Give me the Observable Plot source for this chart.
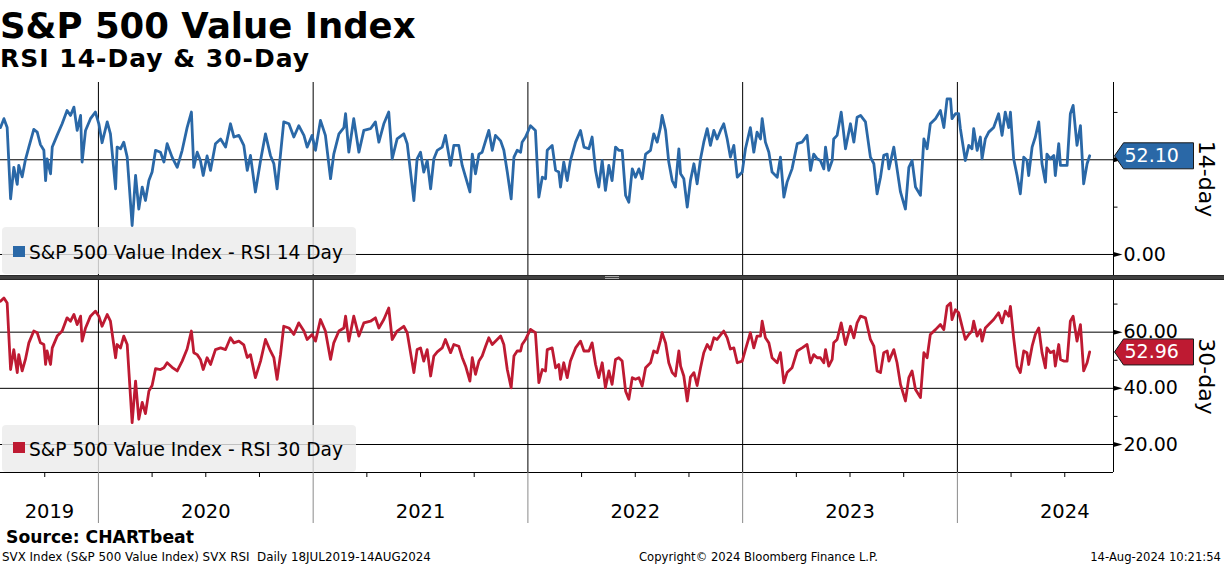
<!DOCTYPE html>
<html>
<head>
<meta charset="utf-8">
<script src="https://cdn.jsdelivr.net/npm/d3@7"></script>
<script src="https://cdn.jsdelivr.net/npm/@observablehq/plot@0.6"></script>
<style>
html,body{margin:0;padding:0;background:#fff;}
#chart{position:relative;width:1224px;height:566px;overflow:hidden;background:#fff;}
#chart > svg{position:absolute;left:0;}
</style>
</head>
<body>
<div id="chart"></div>
<script>
// ---- DATA (time as decimal year) ----
const dates = [
2019.544,2019.560,2019.575,2019.591,2019.606,2019.622,2019.629,2019.645,2019.660,2019.676,
2019.699,2019.715,2019.730,2019.746,2019.754,2019.761,2019.777,2019.785,2019.808,2019.831,
2019.854,2019.870,2019.886,2019.901,2019.917,2019.924,2019.940,2019.963,2019.986,2020.002,
2020.017,2020.041,2020.056,2020.080,2020.087,2020.103,2020.118,2020.134,2020.157,2020.173,
2020.188,2020.204,2020.219,2020.235,2020.250,2020.266,2020.289,2020.305,2020.320,2020.343,
2020.367,2020.390,2020.413,2020.433,2020.444,2020.460,2020.475,2020.488,2020.506,2020.522,
2020.545,2020.569,2020.592,2020.615,2020.631,2020.654,2020.677,2020.693,2020.708,2020.731,
2020.755,2020.778,2020.801,2020.817,2020.832,2020.848,2020.863,2020.887,2020.910,2020.933,
2020.957,2020.972,2020.995,2021.011,2021.034,2021.057,2021.081,2021.096,2021.120,2021.143,
2021.151,2021.166,2021.189,2021.213,2021.236,2021.267,2021.290,2021.306,2021.329,2021.352,
2021.368,2021.391,2021.422,2021.438,2021.469,2021.484,2021.500,2021.515,2021.531,2021.547,
2021.562,2021.578,2021.601,2021.616,2021.640,2021.655,2021.678,2021.694,2021.710,2021.730,
2021.741,2021.756,2021.772,2021.787,2021.803,2021.818,2021.834,2021.849,2021.873,2021.888,
2021.904,2021.922,2021.935,2021.950,2021.966,2021.973,2021.989,2022.012,2022.035,2022.051,
2022.067,2022.082,2022.090,2022.113,2022.129,2022.144,2022.152,2022.167,2022.183,2022.198,
2022.222,2022.245,2022.261,2022.284,2022.299,2022.315,2022.330,2022.346,2022.361,2022.377,
2022.392,2022.408,2022.423,2022.439,2022.455,2022.470,2022.486,2022.501,2022.517,2022.532,
2022.548,2022.571,2022.586,2022.602,2022.617,2022.625,2022.641,2022.656,2022.672,2022.687,
2022.703,2022.711,2022.726,2022.742,2022.757,2022.773,2022.788,2022.804,2022.819,2022.835,
2022.850,2022.866,2022.881,2022.897,2022.912,2022.928,2022.943,2022.959,2022.975,2022.998,
2023.013,2023.036,2023.052,2023.067,2023.083,2023.091,2023.106,2023.122,2023.137,2023.161,
2023.176,2023.192,2023.207,2023.230,2023.254,2023.277,2023.300,2023.316,2023.331,2023.347,
2023.362,2023.378,2023.386,2023.401,2023.417,2023.424,2023.440,2023.459,2023.479,2023.502,
2023.518,2023.533,2023.549,2023.572,2023.595,2023.611,2023.626,2023.642,2023.657,2023.673,
2023.681,2023.704,2023.719,2023.735,2023.758,2023.774,2023.789,2023.805,2023.828,2023.844,
2023.859,2023.874,2023.898,2023.921,2023.937,2023.952,2023.968,2023.975,2023.991,2024.006,
2024.014,2024.037,2024.053,2024.068,2024.076,2024.092,2024.107,2024.115,2024.130,2024.146,
2024.169,2024.192,2024.208,2024.223,2024.239,2024.247,2024.262,2024.278,2024.293,2024.309,
2024.324,2024.332,2024.348,2024.363,2024.379,2024.394,2024.410,2024.417,2024.433,2024.449,
2024.456,2024.472,2024.480,2024.495,2024.511,2024.526,2024.539,2024.557,2024.573,2024.588,
2024.604,2024.616
];
const rsi14 = [
67,71.7,67,29.4,46,37,47,41,50,56.7,
66,64.6,58,55,39,50.5,42.6,56.7,63,69,
76,73.4,77.8,65.5,73.4,48.8,65.5,71.7,75.2,69,
59,70,63.7,34.7,56.7,55.8,59.3,51.4,15.3,41.7,
24,35.6,28.5,39,43.5,55,54,48.8,58.5,51.4,
46,55,67,75.2,46,54,49.6,41.7,52,44.4,
58.5,61,56.7,69,62,62.9,57.6,44.4,52.3,33,
49.6,63.7,52.3,47.9,34.7,53,70,69,62,68,
62.9,56.7,62.9,55,70.8,62.9,40,53,63.7,67,
74.3,54,71.7,54,65.5,66.4,70,59.3,69,75.2,
50.5,61,63.7,58.5,28.5,50.5,54,43.5,49.6,34.7,
50.5,55,56.7,62.9,47,57.6,57.6,47,40.8,33,
53,42.6,53,54,60,65.5,55,62.9,60,55,
43.5,29.4,51.4,55,54,59.3,62,68,65.5,30.3,
40.8,40,55,57.6,44.4,43.5,35.6,48.8,39,49.6,
59.3,65.5,56.7,55.8,62,44.4,35.6,49.6,33.8,47,
39,56.7,55,55,31.2,27.6,45.2,40.8,45.2,40,
53,55,63.7,59.3,67,73.4,65.5,48.8,39,35.6,
55.8,42.6,40,25,39,47.9,37.3,50.5,59.3,66.4,
57.6,65.5,61,65.5,69,61,51.4,57.6,40.8,43.5,
55.8,67,54,64.6,61,71.7,59.3,54,43.5,40.8,
51.4,30.3,38.2,45.2,58.5,59.3,62.9,44.4,53,50.5,
49.6,45.2,56.7,44.4,49.6,61,62.9,75.2,55.8,69,
59.3,72.5,73.4,70,51.4,47.9,32,40.8,52.3,53,
45.2,56.7,45.2,33,24,46,49.6,35.6,31.2,61,
55.8,69,71.7,76,67,82.2,82.2,71.7,74.3,74.3,
66.4,49.6,57.6,55.8,66.4,55,62,50.5,61,64.6,
67,74.3,62.9,75.2,67,75.2,50.5,41.7,32,51.4,
49.6,41.7,56.7,62,70,47.9,38.2,53,50.5,52.3,
41.7,58.5,47,47,47,74.3,78.7,57.6,68,37.3,
47.9,52.10
];
const rsi30 = [
71,72.2,70.4,46.7,53.8,45.6,52,46.2,50.3,56.2,
60.4,59.8,56.2,55.6,48.5,53.3,48.5,54.4,58.6,60.4,
65.1,63.9,66.3,62.7,65.7,56.8,61.5,65.7,67.5,65.7,
62.1,66.3,63.9,50.9,55.6,54.4,58.6,55.6,27.8,42.6,
29,35,31,39,41,47,46.7,47.3,49.1,47.5,
46.2,49.7,54,60.4,52.7,52,50.3,46.7,50.9,48.5,
53.8,54.4,53.8,58,56.2,56.8,55.5,51,52,43.8,
49.7,57.4,53.3,50.9,43.2,52,62.1,61.5,59.2,63.3,
60.4,57.4,59.2,56.8,64.5,60.4,50.3,56.2,60.4,61.5,
65.7,56.8,65.7,58.6,63.3,63.9,65.1,61.5,64.5,68.6,
57.4,60.4,62.1,59.8,45.6,53.8,54.4,49.7,53.8,44.4,
51.5,53,54.4,57.4,52.7,55.6,55,51,47.9,42.6,
50.9,45,49.7,51.5,55,58,55.6,56.8,58.6,55.6,
46.7,40.2,51.5,53.3,53.3,55.6,57.4,61,59.8,42,
46.7,46.2,53.8,54.4,47.3,48.5,43.2,49.1,43.8,49.7,
54.4,56.8,53.3,53.3,56.2,48.5,43.8,49.1,40.2,46.2,
41.4,50.3,50.9,49.7,39,36.1,43.8,43.2,43.8,40.8,
47.3,49.1,53.3,52.7,57,59.8,56.2,49.1,45.6,44.4,
53.3,47.9,44.4,35.5,44,45.6,41,47.3,52.7,55.6,
53.8,58,57.4,59,60.4,58,54,54.4,49.1,49.7,
53.8,59.8,54.4,58.6,58.6,63.9,58,56.2,50.9,49.1,
52.7,42,45.6,47.3,53.3,54.4,55.6,49.1,52,50.9,
50.9,49.1,53.8,47.9,50.3,56.2,57.4,63.3,55.6,62.1,
58,63.3,65.7,65.1,57.4,55,46.2,45.6,52.7,53.3,
49.7,53.8,49.1,41.4,35.5,43.8,46.2,39.6,36.7,52.7,
50.9,59.2,60.9,62.7,60.9,69.2,70.4,64.5,68,66.9,
64.5,57.4,59.2,60.4,63.9,58.6,60.9,56.8,61.5,62.7,
64.5,66.9,63.3,67.5,65.7,69.2,58,47.9,45.6,53.3,
52.7,48.5,55,59.2,61.5,52.7,47.3,54.4,52.7,53.3,
47.9,55.6,50.3,49.7,49.7,63.9,65.7,56.8,62.7,46.2,
49.1,52.96
];
const yearStarts = [2020, 2021, 2022, 2023, 2024];
const yearNames = ["2019", "2020", "2021", "2022", "2023", "2024"];
const ticks14 = [0, 50];
const labels14 = [0];
const minor14 = [25, 75];
const ticks30 = [20, 40, 60];
const labels30 = [20, 40, 60];
const minor30 = [30, 50, 70];
const seriesNames = ["S&P 500 Value Index - RSI 14 Day", "S&P 500 Value Index - RSI 30 Day"];
const panelTitles = ["14-day", "30-day"];
const titleText = "S&P 500 Value Index";
const subtitleText = "RSI 14-Day & 30-Day";
const sourceText = "Source: CHARTbeat";
const footLeft = "SVX Index (S&P 500 Value Index) SVX RSI  Daily 18JUL2019-14AUG2024";
const footMid = "Copyright\u00A9 2024 Bloomberg Finance L.P.";
const footRight = "14-Aug-2024 10:21:54";

// ---- SETUP ----
const W = 1224;
const xDomain = [2019.544, 2024.727];
const xMax = xDomain[1];
const y14Domain = [-11.1, 90.8];
const y30Domain = [10.03, 78.4];
const blue = "#2a68a7";
const red = "#be1a32";
const font = '"DejaVu Sans", sans-serif';

const rows = dates.map((t, i) => ({t, v14: rsi14[i], v30: rsi30[i]}));
const last = rows[rows.length - 1];

const quarters = [];
for (let y = 2019; y <= 2024; y++) for (const q of [0.25, 0.5, 0.75]) {
  const v = y + q; if (v > xDomain[0] && v < xDomain[1]) quarters.push(v);
}
const yearLabelRows = yearNames.map(n => {
  const y = +n; const a = Math.max(y, xDomain[0]);
  return {mid: (a + y + 1) / 2, label: n};
});

const tagSymbol = {draw(ctx) { ctx.moveTo(1, 0); ctx.lineTo(10, -13); ctx.lineTo(80, -13); ctx.lineTo(80, 13); ctx.lineTo(10, 13); ctx.closePath(); }};
const arrowSymbol = {draw(ctx) { ctx.moveTo(0, -2.5); ctx.lineTo(9, 0); ctx.lineTo(0, 2.5); ctx.closePath(); }};
const minorSymbol = {draw(ctx) { ctx.moveTo(0, 0); ctx.lineTo(4, 0); }};

function rightAxis(majors, labels, minors) {
  return [
    Plot.ruleX([xMax], {stroke: "#000", strokeWidth: 1}),
    Plot.dot(minors, {x: () => xMax, y: d => d, symbol: minorSymbol, stroke: "#000", fill: "none", strokeWidth: 1}),
    Plot.dot(majors, {x: () => xMax, y: d => d, symbol: arrowSymbol, fill: "#000", stroke: "none"}),
    Plot.text(labels, {x: () => xMax, y: d => d, text: d => d.toFixed(2), dx: 10, textAnchor: "start", fontSize: 19, fill: "#000"})
  ];
}
function tag(key, color) {
  return [
    Plot.dot([last], {x: () => xMax, y: key, symbol: tagSymbol, fill: color, stroke: "#1a1a1a", strokeWidth: 1}),
    Plot.text([last], {x: () => xMax, y: key, text: d => d[key].toFixed(2), dx: 11, textAnchor: "start", fill: "#fff", fontSize: 19})
  ];
}
function panelTitle(t) {
  return Plot.text([t], {frameAnchor: "right", text: d => d, dx: 93, rotate: 90, textAnchor: "middle", lineAnchor: "middle", fontSize: 22, fill: "#000"});
}

const chart = document.getElementById("chart");

const topPlot = Plot.plot({
  width: W, height: 193,
  marginLeft: 0, marginRight: 111, marginTop: 0, marginBottom: 0,
  x: {domain: xDomain, axis: null},
  y: {domain: y14Domain, axis: null},
  style: {fontFamily: font, background: "transparent", overflow: "visible"},
  marks: [
    Plot.ruleY(ticks14, {stroke: "#000", strokeWidth: 1}),
    Plot.ruleX(yearStarts, {stroke: "#000", strokeWidth: 1}),
    Plot.line(rows, {x: "t", y: "v14", stroke: blue, strokeWidth: 2.8, strokeLinejoin: "round"}),
    ...rightAxis(ticks14, labels14, minor14),
    ...tag("v14", blue),
    panelTitle(panelTitles[0])
  ]
});
topPlot.style.top = "82px";
chart.appendChild(topPlot);

const botPlot = Plot.plot({
  width: W, height: 243,
  marginLeft: 0, marginRight: 111, marginTop: 0, marginBottom: 51,
  x: {domain: xDomain, axis: null},
  y: {domain: y30Domain, axis: null},
  style: {fontFamily: font, background: "transparent", overflow: "visible"},
  marks: [
    Plot.ruleY(ticks30, {stroke: "#000", strokeWidth: 1}),
    Plot.ruleX(yearStarts, {stroke: "#000", strokeWidth: 1}),
    Plot.line(rows, {x: "t", y: "v30", stroke: red, strokeWidth: 2.8, strokeLinejoin: "round"}),
    Plot.ruleY([y30Domain[0]], {stroke: "#000", strokeWidth: 1}),
    Plot.axisX(yearStarts, {anchor: "bottom", tickSize: 51, stroke: "#8a8a8a", tickFormat: () => "", label: null}),
    Plot.axisX(quarters, {anchor: "bottom", tickSize: 5, stroke: "#000", tickFormat: () => "", label: null}),
    Plot.text(yearLabelRows, {x: "mid", text: "label", frameAnchor: "bottom", dy: 45, fontSize: 19.5, fill: "#000"}),
    ...rightAxis(ticks30, labels30, minor30),
    ...tag("v30", red),
    panelTitle(panelTitles[1])
  ]
});
botPlot.style.top = "280px";
chart.appendChild(botPlot);

// ---- overlay: titles, separator, legends, footer ----
const ov = d3.select(chart).append("svg")
  .attr("width", W).attr("height", 566)
  .style("top", "0px").style("font-family", font).style("pointer-events", "none");

ov.append("text").attr("x", 0).attr("y", 38).attr("font-size", 35.5).attr("font-weight", "bold").text(titleText);
ov.append("text").attr("x", 0).attr("y", 67).attr("font-size", 25).attr("font-weight", "bold").attr("letter-spacing", 1).text(subtitleText);

// separator between panels
ov.append("rect").attr("x", 0).attr("y", 275).attr("width", W).attr("height", 5).attr("fill", "#404040");
ov.append("rect").attr("x", 0).attr("y", 275).attr("width", W).attr("height", 1).attr("fill", "#2a2a2a");
ov.append("rect").attr("x", 0).attr("y", 279).attr("width", W).attr("height", 1).attr("fill", "#262626");
ov.append("rect").attr("x", 605).attr("y", 276).attr("width", 14).attr("height", 1).attr("fill", "#a8a8a8");
ov.append("rect").attr("x", 605).attr("y", 278).attr("width", 14).attr("height", 1).attr("fill", "#a8a8a8");

// legends
const legends = [
  {y: 227, sq: 246, base: 259, color: blue, name: seriesNames[0]},
  {y: 425, sq: 442, base: 456, color: red, name: seriesNames[1]}
];
for (const l of legends) {
  ov.append("rect").attr("x", 2).attr("y", l.y).attr("width", 354).attr("height", 47).attr("rx", 4)
    .attr("fill", "#ebebeb").attr("fill-opacity", 0.82);
  ov.append("rect").attr("x", 13).attr("y", l.sq).attr("width", 12).attr("height", 11).attr("fill", l.color);
  ov.append("text").attr("x", 29).attr("y", l.base).attr("font-size", 18.6).attr("fill", "#000").text(l.name);
}

// footer
ov.append("text").attr("x", 6).attr("y", 543).attr("font-size", 17.2).attr("font-weight", "bold").text(sourceText);
ov.append("text").attr("x", 2).attr("y", 561).attr("font-size", 11.9).style("white-space", "pre").text(footLeft);
ov.append("text").attr("x", 639).attr("y", 561).attr("font-size", 11.6).text(footMid);
ov.append("text").attr("x", 1221).attr("y", 561).attr("font-size", 11.6).attr("text-anchor", "end").text(footRight);
</script>
</body>
</html>
